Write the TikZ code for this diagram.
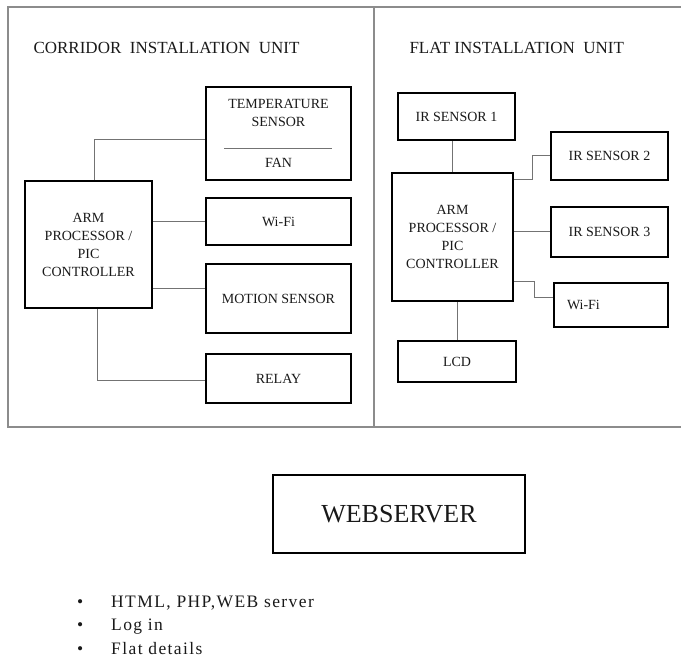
\documentclass[tikz,border=0pt]{standalone}
\usepackage{fontspec}
\setmainfont{Liberation Serif}
\usetikzlibrary{positioning}

\begin{document}
\begin{tikzpicture}[
    x=1pt, y=-1pt,
    blk/.style={draw, rectangle, line width=1.8pt, align=center, inner sep=2pt, font=\fontsize{14}{18}\selectfont, text=black!90},
    wire/.style={line width=1pt, draw=black!55},
    frame/.style={line width=1.3pt, draw=black!45},
    ttl/.style={anchor=west, font=\fontsize{17}{20}\selectfont, text=black!90}
]
    \useasboundingbox (0,0) rectangle (681,658);

    % Frame
    \draw[frame] (681,7) -- (8,7) -- (8,427) -- (681,427);
    \draw[frame] (374,7) -- (374,427);

    % Corridor unit
    \node[ttl] (ttlL) at (30,48) {CORRIDOR\ \ INSTALLATION\ \ UNIT};
    \node[blk, minimum width=127pt, minimum height=127pt] (armL) at (88.5,244.5) {ARM\\PROCESSOR /\\PIC\\CONTROLLER};
    \node[blk, minimum width=145pt, minimum height=93pt] (temp) at (278.5,133.5) {};
    \node[font=\fontsize{14}{18}\selectfont, text=black!90, align=center] (tempt) at (278.5,113) {TEMPERATURE\\SENSOR};
    \node[font=\fontsize{14}{18}\selectfont, text=black!90] (fan) at (278.5,163) {FAN};
    \draw[wire] ([xshift=19pt,yshift=-15.5pt]temp.west) -- ([xshift=-20pt,yshift=-15.5pt]temp.east);
    \node[blk, minimum width=145pt, minimum height=47pt] (wifiL) at (278.5,221.5) {Wi-Fi};
    \node[blk, minimum width=145pt, minimum height=69pt] (motion) at (278.5,298.5) {MOTION SENSOR};
    \node[blk, minimum width=145pt, minimum height=49pt] (relay) at (278.5,378.5) {RELAY};

    \draw[wire] ([xshift=5.5pt]armL.north) |- ([yshift=-6.5pt]temp.west);
    \draw[wire] (armL.east |- wifiL.west) -- (wifiL.west);
    \coordinate (mo) at ([yshift=9.5pt]motion.west);
    \draw[wire] (armL.east |- mo) -- (mo);
    \draw[wire] ([xshift=8.5pt]armL.south) |- ([yshift=-1.5pt]relay.west);

    % Flat unit
    \node[ttl] (ttlR) at (406,48) {FLAT INSTALLATION\ \ UNIT};
    \node[blk, minimum width=117pt, minimum height=47pt] (ir1) at (456.5,116.5) {IR SENSOR 1};
    \node[blk, minimum width=121pt, minimum height=128pt] (armR) at (452.5,237) {ARM\\PROCESSOR /\\PIC\\CONTROLLER};
    \node[blk, minimum width=117pt, minimum height=48pt] (ir2) at (609.5,156) {IR SENSOR 2};
    \node[blk, minimum width=117pt, minimum height=50pt] (ir3) at (609.5,232) {IR SENSOR 3};
    \node[blk, minimum width=114pt, minimum height=44pt, text width=88pt, align=left] (wifiR) at (611,305) {Wi-Fi};
    \node[blk, minimum width=118pt, minimum height=41pt] (lcd) at (457,361.5) {LCD};

    \draw[wire] (armR.north) -- (armR.north |- ir1.south);
    \draw[wire] ([yshift=57pt]armR.east) -- ++(19pt,0pt) |- (ir2.west);
    \draw[wire] (armR.east |- ir3.west) -- (ir3.west);
    \draw[wire] ([yshift=-45pt]armR.east) -- ++(21pt,0pt) |- ([yshift=7pt]wifiR.west);
    \draw[wire] (lcd.north) -- (lcd.north |- armR.south);

    % Webserver
    \node[blk, minimum width=252pt, minimum height=78pt, font=\fontsize{26}{28}\selectfont] (web) at (399,514) {WEBSERVER};
    \node[anchor=west, align=left, inner sep=0pt, font=\fontsize{17.5}{23.5}\selectfont\addfontfeatures{LetterSpace=8}, text=black!90] (list) at (77,625)
        {\makebox[34pt][l]{\textbullet}HTML, PHP,WEB server\\
         \makebox[34pt][l]{\textbullet}Log in\\
         \makebox[34pt][l]{\textbullet}Flat details};
\end{tikzpicture}
\end{document}
